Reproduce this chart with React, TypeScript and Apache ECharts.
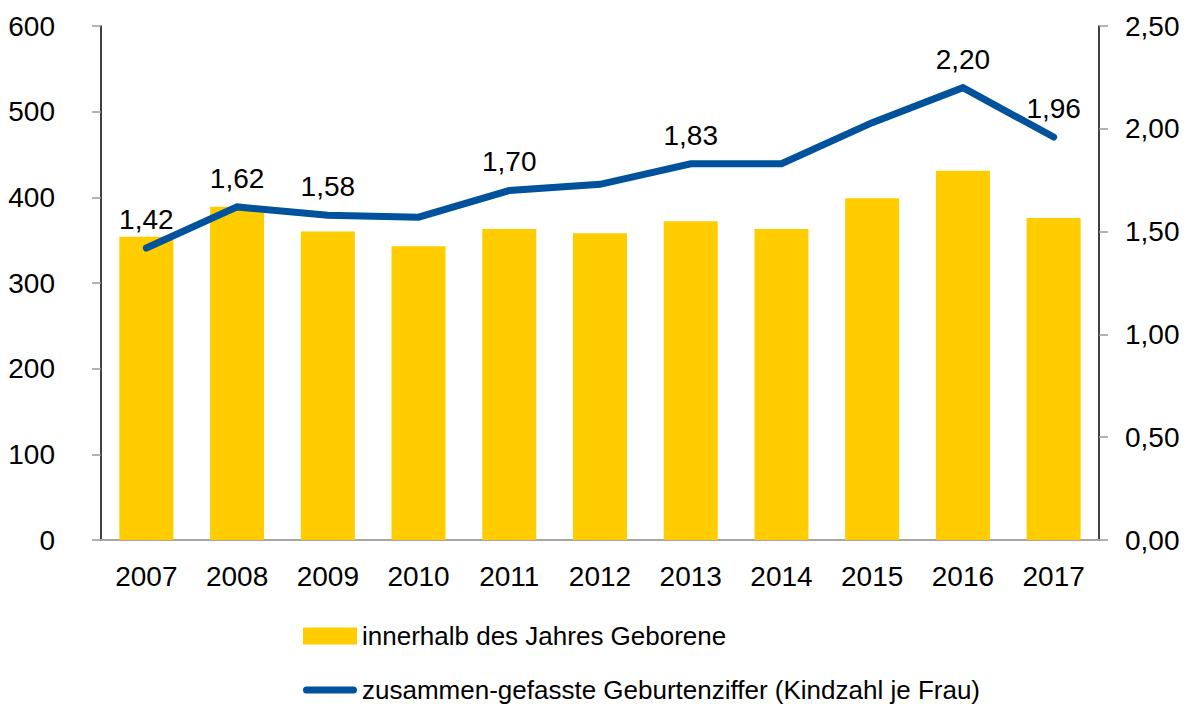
import React, { useEffect, useRef } from "react";
import * as echarts from "echarts";

const years = ["2007", "2008", "2009", "2010", "2011", "2012", "2013", "2014", "2015", "2016", "2017"];
const births = [354, 389, 360, 343, 363, 358, 372, 363, 399, 431, 376];
const fertility = [1.42, 1.62, 1.58, 1.57, 1.7, 1.73, 1.83, 1.83, 2.03, 2.2, 1.96];
const labelledYears = ["2007", "2008", "2009", "2011", "2013", "2016", "2017"];
const barName = "innerhalb des Jahres Geborene";
const lineName = "zusammen-gefasste Geburtenziffer (Kindzahl je Frau)";

const FONT = "Liberation Sans, Arial, sans-serif";
const BAR_COLOR = "#FFCC00";
const LINE_COLOR = "#00529C";
const comma = (v: number) => v.toFixed(2).replace(".", ",");

const legendText = { fontSize: 26, color: "#000", fontFamily: FONT, lineHeight: 30 };

export default function App() {
  const ref = useRef<HTMLDivElement>(null);
  useEffect(() => {
    if (!ref.current) return;
    const chart = echarts.init(ref.current, undefined, { renderer: "svg" });
    chart.setOption({
      animation: false,
      backgroundColor: "#ffffff",
      textStyle: { fontFamily: FONT },
      grid: { left: 101, right: 92, top: 26, bottom: 164, containLabel: false },
      legend: [
        {
          orient: "horizontal",
          left: 298,
          top: 616,
          itemWidth: 54,
          itemHeight: 17,
          itemGap: 4,
          textStyle: legendText,
          data: [{ name: barName, icon: "rect" }],
        },
        {
          orient: "horizontal",
          left: 298,
          top: 670,
          itemWidth: 54,
          itemHeight: 17,
          textStyle: legendText,
          data: [
            {
              name: lineName,
              icon: "path://M3.5,0 L50.5,0 A3.5,3.5 0 0 1 50.5,7 L3.5,7 A3.5,3.5 0 0 1 3.5,0 Z",
            },
          ],
        },
      ],
      xAxis: [
        {
          type: "category",
          data: years,
          axisLine: { show: true, lineStyle: { color: "#000", width: 1.5 } },
          axisTick: { show: false },
          axisLabel: { fontSize: 28, color: "#000", margin: 22, fontFamily: FONT },
        },
        {
          type: "category",
          data: years,
          position: "top",
          axisLine: { show: true, lineStyle: { color: "#a6a6a6", width: 2 } },
          axisTick: { show: false },
          axisLabel: { show: false },
        },
      ],
      yAxis: [
        {
          type: "value",
          min: 0,
          max: 600,
          interval: 100,
          position: "left",
          axisLine: { show: true, lineStyle: { color: "#000", width: 1.5 } },
          axisTick: { show: true, inside: false, length: 9, lineStyle: { color: "#999", width: 1.5 } },
          splitLine: { show: false },
          axisLabel: { fontSize: 28, color: "#000", margin: 46, fontFamily: FONT },
        },
        {
          type: "value",
          min: 0,
          max: 2.5,
          interval: 0.5,
          position: "right",
          axisLine: { show: true, lineStyle: { color: "#000", width: 1.5 } },
          axisTick: { show: true, inside: false, length: 9, lineStyle: { color: "#999", width: 1.5 } },
          splitLine: { show: false },
          axisLabel: { fontSize: 28, color: "#000", margin: 26, fontFamily: FONT, formatter: (v: number) => comma(v) },
        },
      ],
      series: [
        {
          name: barName,
          type: "bar",
          data: births,
          barWidth: 54,
          itemStyle: { color: BAR_COLOR },
          xAxisIndex: 0,
          yAxisIndex: 0,
        },
        {
          name: lineName,
          type: "line",
          xAxisIndex: 0,
          yAxisIndex: 1,
          data: fertility.map((v, i) => ({
            value: v,
            label: { show: labelledYears.includes(years[i]) },
          })),
          symbol: "circle",
          symbolSize: 1,
          showSymbol: true,
          itemStyle: { color: LINE_COLOR },
          lineStyle: { color: LINE_COLOR, width: 7, cap: "round", join: "miter" },
          label: {
            position: "top",
            distance: 14,
            fontSize: 28,
            color: "#000",
            fontFamily: FONT,
            formatter: (p: any) => comma(p.value),
          },
          z: 5,
        },
      ],
    });
    return () => chart.dispose();
  }, []);
  return (
    <div
      ref={ref}
      style={{ position: "fixed", left: 0, top: 0, width: 1191, height: 704, background: "#fff" }}
    />
  );
}
